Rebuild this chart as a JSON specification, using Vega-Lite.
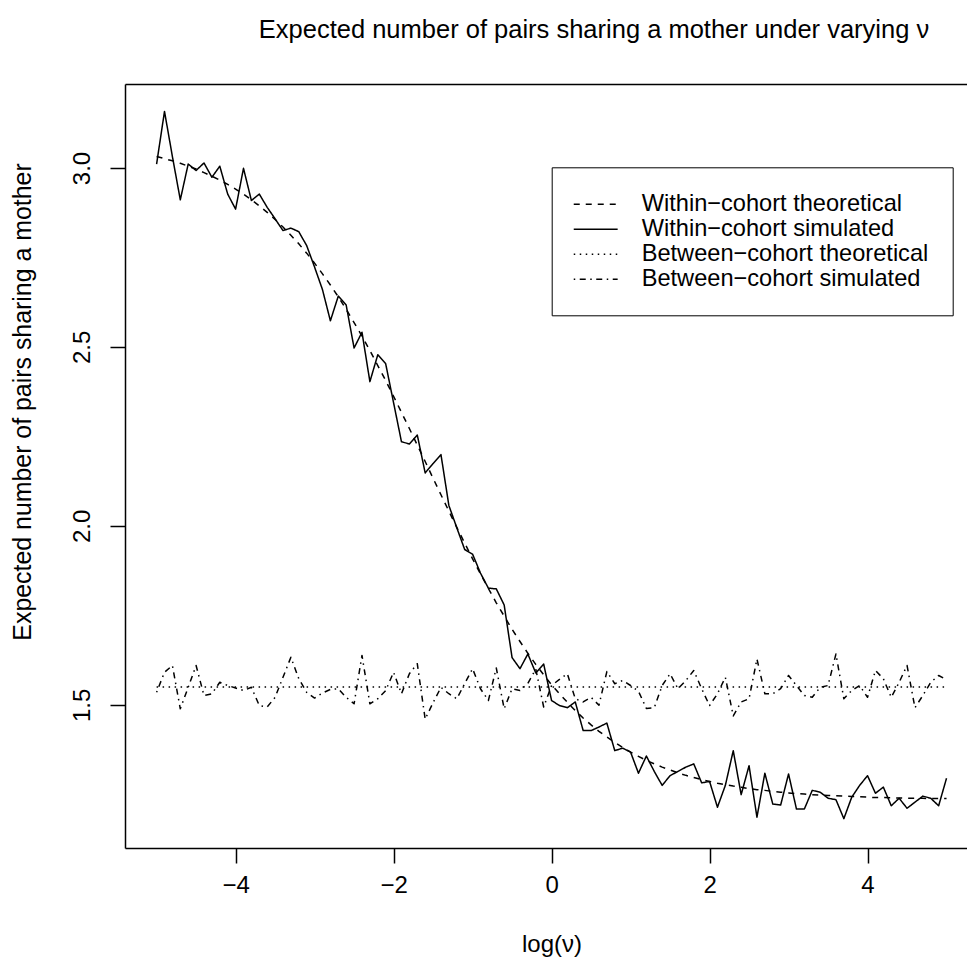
{
  "$schema": "https://vega.github.io/schema/vega-lite/v6.json",
  "autosize": {"type": "none"},
  "padding": {"left": 125, "top": 84, "right": 0, "bottom": 118},
  "width": 842,
  "height": 764,
  "background": "white",
  "title": {"text": "Expected number of pairs sharing a mother under varying ν", "fontSize": 25.5, "fontWeight": "normal", "font": "Liberation Sans", "color": "black", "anchor": "middle", "dx": 48, "offset": 21, "baseline": "alphabetic"},
  "config": {
    "view": {"stroke": null},
    "axis": {"labelFont": "Liberation Sans", "titleFont": "Liberation Sans", "labelColor": "black", "titleColor": "black", "tickColor": "black", "domainColor": "black", "tickWidth": 1.5, "domainWidth": 1.5, "labelFontSize": 24, "titleFontSize": 24, "titleFontWeight": "normal", "grid": false},
    "legend": {"labelFont": "Liberation Sans", "labelFontSize": 23.6, "labelColor": "black", "labelLimit": 500}
  },
  "data": {"values": [
    {"x": -5.0, "wt": 3.032, "ws": 3.011, "bt": 1.55, "bs": 1.535},
    {"x": -4.9, "wt": 3.026, "ws": 3.158, "bt": 1.55, "bs": 1.591},
    {"x": -4.8, "wt": 3.020, "ws": 3.032, "bt": 1.55, "bs": 1.610},
    {"x": -4.7, "wt": 3.013, "ws": 2.911, "bt": 1.55, "bs": 1.489},
    {"x": -4.6, "wt": 3.005, "ws": 3.011, "bt": 1.55, "bs": 1.549},
    {"x": -4.5, "wt": 2.997, "ws": 2.993, "bt": 1.55, "bs": 1.610},
    {"x": -4.4, "wt": 2.987, "ws": 3.014, "bt": 1.55, "bs": 1.526},
    {"x": -4.3, "wt": 2.977, "ws": 2.974, "bt": 1.55, "bs": 1.531},
    {"x": -4.2, "wt": 2.966, "ws": 3.005, "bt": 1.55, "bs": 1.563},
    {"x": -4.1, "wt": 2.954, "ws": 2.927, "bt": 1.55, "bs": 1.554},
    {"x": -4.0, "wt": 2.941, "ws": 2.885, "bt": 1.55, "bs": 1.547},
    {"x": -3.9, "wt": 2.927, "ws": 2.999, "bt": 1.55, "bs": 1.540},
    {"x": -3.8, "wt": 2.911, "ws": 2.909, "bt": 1.55, "bs": 1.549},
    {"x": -3.7, "wt": 2.894, "ws": 2.927, "bt": 1.55, "bs": 1.498},
    {"x": -3.6, "wt": 2.876, "ws": 2.890, "bt": 1.55, "bs": 1.494},
    {"x": -3.5, "wt": 2.856, "ws": 2.858, "bt": 1.55, "bs": 1.521},
    {"x": -3.4, "wt": 2.835, "ws": 2.825, "bt": 1.55, "bs": 1.577},
    {"x": -3.3, "wt": 2.812, "ws": 2.832, "bt": 1.55, "bs": 1.633},
    {"x": -3.2, "wt": 2.788, "ws": 2.822, "bt": 1.55, "bs": 1.573},
    {"x": -3.1, "wt": 2.762, "ws": 2.783, "bt": 1.55, "bs": 1.535},
    {"x": -3.0, "wt": 2.734, "ws": 2.723, "bt": 1.55, "bs": 1.519},
    {"x": -2.9, "wt": 2.704, "ws": 2.660, "bt": 1.55, "bs": 1.533},
    {"x": -2.8, "wt": 2.673, "ws": 2.573, "bt": 1.55, "bs": 1.543},
    {"x": -2.7, "wt": 2.640, "ws": 2.642, "bt": 1.55, "bs": 1.545},
    {"x": -2.6, "wt": 2.605, "ws": 2.617, "bt": 1.55, "bs": 1.521},
    {"x": -2.5, "wt": 2.568, "ws": 2.497, "bt": 1.55, "bs": 1.503},
    {"x": -2.4, "wt": 2.530, "ws": 2.541, "bt": 1.55, "bs": 1.638},
    {"x": -2.3, "wt": 2.490, "ws": 2.403, "bt": 1.55, "bs": 1.503},
    {"x": -2.2, "wt": 2.448, "ws": 2.478, "bt": 1.55, "bs": 1.517},
    {"x": -2.1, "wt": 2.406, "ws": 2.453, "bt": 1.55, "bs": 1.540},
    {"x": -2.0, "wt": 2.362, "ws": 2.344, "bt": 1.55, "bs": 1.591},
    {"x": -1.9, "wt": 2.317, "ws": 2.235, "bt": 1.55, "bs": 1.531},
    {"x": -1.8, "wt": 2.272, "ws": 2.229, "bt": 1.55, "bs": 1.587},
    {"x": -1.7, "wt": 2.226, "ws": 2.254, "bt": 1.55, "bs": 1.615},
    {"x": -1.6, "wt": 2.180, "ws": 2.148, "bt": 1.55, "bs": 1.460},
    {"x": -1.5, "wt": 2.133, "ws": 2.174, "bt": 1.55, "bs": 1.506},
    {"x": -1.4, "wt": 2.087, "ws": 2.199, "bt": 1.55, "bs": 1.549},
    {"x": -1.3, "wt": 2.041, "ws": 2.057, "bt": 1.55, "bs": 1.531},
    {"x": -1.2, "wt": 1.996, "ws": 1.995, "bt": 1.55, "bs": 1.517},
    {"x": -1.1, "wt": 1.952, "ws": 1.934, "bt": 1.55, "bs": 1.559},
    {"x": -1.0, "wt": 1.908, "ws": 1.921, "bt": 1.55, "bs": 1.601},
    {"x": -0.9, "wt": 1.866, "ws": 1.868, "bt": 1.55, "bs": 1.545},
    {"x": -0.8, "wt": 1.825, "ws": 1.826, "bt": 1.55, "bs": 1.512},
    {"x": -0.7, "wt": 1.785, "ws": 1.824, "bt": 1.55, "bs": 1.603},
    {"x": -0.6, "wt": 1.748, "ws": 1.779, "bt": 1.55, "bs": 1.489},
    {"x": -0.5, "wt": 1.711, "ws": 1.632, "bt": 1.55, "bs": 1.545},
    {"x": -0.4, "wt": 1.677, "ws": 1.601, "bt": 1.55, "bs": 1.540},
    {"x": -0.3, "wt": 1.644, "ws": 1.642, "bt": 1.55, "bs": 1.560},
    {"x": -0.2, "wt": 1.613, "ws": 1.589, "bt": 1.55, "bs": 1.600},
    {"x": -0.1, "wt": 1.584, "ws": 1.614, "bt": 1.55, "bs": 1.494},
    {"x": 0.0, "wt": 1.556, "ws": 1.512, "bt": 1.55, "bs": 1.554},
    {"x": 0.1, "wt": 1.531, "ws": 1.498, "bt": 1.55, "bs": 1.571},
    {"x": 0.2, "wt": 1.507, "ws": 1.492, "bt": 1.55, "bs": 1.587},
    {"x": 0.3, "wt": 1.484, "ws": 1.508, "bt": 1.55, "bs": 1.517},
    {"x": 0.4, "wt": 1.463, "ws": 1.428, "bt": 1.55, "bs": 1.508},
    {"x": 0.5, "wt": 1.444, "ws": 1.428, "bt": 1.55, "bs": 1.521},
    {"x": 0.6, "wt": 1.426, "ws": 1.438, "bt": 1.55, "bs": 1.499},
    {"x": 0.7, "wt": 1.410, "ws": 1.449, "bt": 1.55, "bs": 1.593},
    {"x": 0.8, "wt": 1.395, "ws": 1.372, "bt": 1.55, "bs": 1.559},
    {"x": 0.9, "wt": 1.381, "ws": 1.379, "bt": 1.55, "bs": 1.568},
    {"x": 1.0, "wt": 1.368, "ws": 1.368, "bt": 1.55, "bs": 1.554},
    {"x": 1.1, "wt": 1.356, "ws": 1.309, "bt": 1.55, "bs": 1.538},
    {"x": 1.2, "wt": 1.345, "ws": 1.357, "bt": 1.55, "bs": 1.490},
    {"x": 1.3, "wt": 1.335, "ws": 1.314, "bt": 1.55, "bs": 1.492},
    {"x": 1.4, "wt": 1.326, "ws": 1.275, "bt": 1.55, "bs": 1.554},
    {"x": 1.5, "wt": 1.318, "ws": 1.302, "bt": 1.55, "bs": 1.587},
    {"x": 1.6, "wt": 1.310, "ws": 1.314, "bt": 1.55, "bs": 1.545},
    {"x": 1.7, "wt": 1.303, "ws": 1.326, "bt": 1.55, "bs": 1.568},
    {"x": 1.8, "wt": 1.297, "ws": 1.335, "bt": 1.55, "bs": 1.596},
    {"x": 1.9, "wt": 1.291, "ws": 1.282, "bt": 1.55, "bs": 1.545},
    {"x": 2.0, "wt": 1.286, "ws": 1.286, "bt": 1.55, "bs": 1.498},
    {"x": 2.1, "wt": 1.281, "ws": 1.214, "bt": 1.55, "bs": 1.531},
    {"x": 2.2, "wt": 1.277, "ws": 1.275, "bt": 1.55, "bs": 1.577},
    {"x": 2.3, "wt": 1.273, "ws": 1.372, "bt": 1.55, "bs": 1.469},
    {"x": 2.4, "wt": 1.270, "ws": 1.249, "bt": 1.55, "bs": 1.508},
    {"x": 2.5, "wt": 1.266, "ws": 1.330, "bt": 1.55, "bs": 1.517},
    {"x": 2.6, "wt": 1.263, "ws": 1.186, "bt": 1.55, "bs": 1.628},
    {"x": 2.7, "wt": 1.261, "ws": 1.309, "bt": 1.55, "bs": 1.531},
    {"x": 2.8, "wt": 1.258, "ws": 1.223, "bt": 1.55, "bs": 1.531},
    {"x": 2.9, "wt": 1.256, "ws": 1.220, "bt": 1.55, "bs": 1.545},
    {"x": 3.0, "wt": 1.254, "ws": 1.307, "bt": 1.55, "bs": 1.582},
    {"x": 3.1, "wt": 1.252, "ws": 1.209, "bt": 1.55, "bs": 1.554},
    {"x": 3.2, "wt": 1.251, "ws": 1.209, "bt": 1.55, "bs": 1.526},
    {"x": 3.3, "wt": 1.249, "ws": 1.261, "bt": 1.55, "bs": 1.521},
    {"x": 3.4, "wt": 1.248, "ws": 1.256, "bt": 1.55, "bs": 1.549},
    {"x": 3.5, "wt": 1.247, "ws": 1.239, "bt": 1.55, "bs": 1.554},
    {"x": 3.6, "wt": 1.246, "ws": 1.235, "bt": 1.55, "bs": 1.642},
    {"x": 3.7, "wt": 1.245, "ws": 1.182, "bt": 1.55, "bs": 1.517},
    {"x": 3.8, "wt": 1.244, "ws": 1.242, "bt": 1.55, "bs": 1.540},
    {"x": 3.9, "wt": 1.243, "ws": 1.275, "bt": 1.55, "bs": 1.554},
    {"x": 4.0, "wt": 1.242, "ws": 1.302, "bt": 1.55, "bs": 1.521},
    {"x": 4.1, "wt": 1.241, "ws": 1.253, "bt": 1.55, "bs": 1.596},
    {"x": 4.2, "wt": 1.241, "ws": 1.270, "bt": 1.55, "bs": 1.573},
    {"x": 4.3, "wt": 1.240, "ws": 1.218, "bt": 1.55, "bs": 1.521},
    {"x": 4.4, "wt": 1.240, "ws": 1.239, "bt": 1.55, "bs": 1.563},
    {"x": 4.5, "wt": 1.239, "ws": 1.211, "bt": 1.55, "bs": 1.610},
    {"x": 4.6, "wt": 1.239, "ws": 1.228, "bt": 1.55, "bs": 1.492},
    {"x": 4.7, "wt": 1.239, "ws": 1.245, "bt": 1.55, "bs": 1.526},
    {"x": 4.8, "wt": 1.238, "ws": 1.239, "bt": 1.55, "bs": 1.563},
    {"x": 4.9, "wt": 1.238, "ws": 1.218, "bt": 1.55, "bs": 1.582},
    {"x": 5.0, "wt": 1.238, "ws": 1.295, "bt": 1.55, "bs": 1.570}
  ]},
  "layer": [
    {
      "transform": [{"fold": ["wt", "ws", "bt", "bs"], "as": ["series", "value"]}],
      "mark": {"type": "line", "color": "black", "strokeWidth": 1.5, "strokeCap": "butt", "strokeJoin": "round"},
      "encoding": {
        "x": {"field": "x", "type": "quantitative", "scale": {"domain": [-5.4, 5.259], "nice": false, "zero": false},
          "axis": {"orient": "bottom", "values": [-4, -2, 0, 2, 4], "tickSize": 15, "labelPadding": 10, "labelFlush": false, "domain": true, "title": "log(ν)", "titleX": 426.5, "titleY": 103.5, "titleAlign": "center", "titleBaseline": "alphabetic", "titleAnchor": null}},
        "y": {"field": "value", "type": "quantitative", "scale": {"domain": [1.1, 3.2346], "nice": false, "zero": false},
          "axis": {"values": [1.5, 2.0, 2.5, 3.0], "format": ".1f", "tickSize": 15, "labelAngle": 270, "labelAlign": "center", "labelBaseline": "alphabetic", "labelPadding": 21, "labelFlush": false, "domain": true, "title": "Expected number of pairs sharing a mother", "titleFontSize": 24.9, "titleAngle": 270, "titleX": -95, "titleY": 317.5, "titleAlign": "center", "titleBaseline": "alphabetic"}},
        "strokeDash": {"field": "series", "type": "nominal",
          "scale": {"domain": ["wt", "ws", "bt", "bs"], "range": [[6, 6], [1, 0], [1.5, 4.5], [1.5, 4.5, 6, 4.5]]},
          "legend": {"title": null, "orient": "none", "legendX": 426.7, "legendY": 83.3, "strokeColor": "black", "fillColor": "white", "padding": 24, "symbolType": "M-1.83,0H1.83", "symbolSize": 576, "symbolStrokeWidth": 1.5, "symbolStrokeColor": "black", "symbolFillColor": "transparent", "symbolOffset": 7, "labelOffset": 33, "rowPadding": -0.8, "labelLimit": 500,
            "labelExpr": "{'wt': 'Within−cohort theoretical', 'ws': 'Within−cohort simulated', 'bt': 'Between−cohort theoretical', 'bs': 'Between−cohort simulated'}[datum.label]"}}
      }
    },
    {
      "mark": {"type": "point", "opacity": 0},
      "encoding": {
        "x": {"field": "x", "type": "quantitative", "scale": {"domain": [-5.4, 5.259], "nice": false, "zero": false},
          "axis": {"orient": "top", "labels": false, "ticks": false, "domain": true, "title": null}}
      }
    }
  ],
  "resolve": {"axis": {"x": "independent"}}
}
